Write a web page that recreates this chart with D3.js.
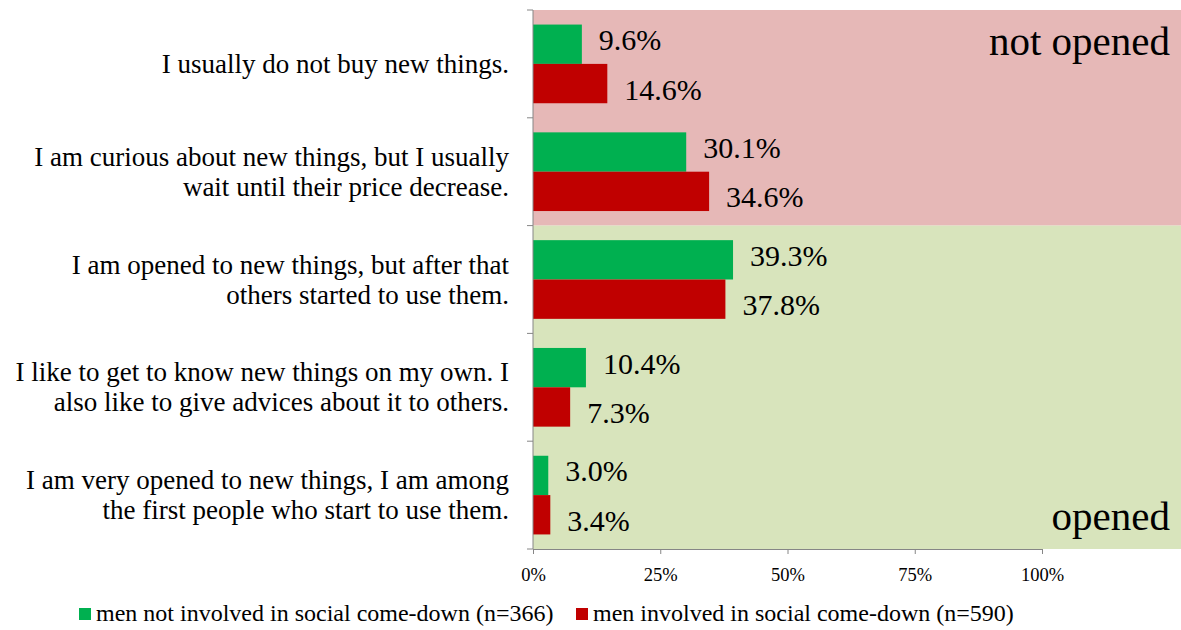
<!DOCTYPE html>
<html>
<head>
<meta charset="utf-8">
<script src="https://cdn.jsdelivr.net/npm/d3@7"></script>
<style>
  html, body { margin: 0; padding: 0; background: #ffffff; }
  svg { display: block; font-family: "Liberation Serif", "Times New Roman", serif; }
</style>
</head>
<body>
<svg id="chart" width="1181" height="630"></svg>
<script>
// Answer options, top to bottom (each entry is a list of wrapped lines)
const categories = [
  ["I usually do not buy new things."],
  ["I am curious about new things, but I usually", "wait until their price decrease."],
  ["I am opened to new things, but after that", "others started to use them."],
  ["I like to get to know new things on my own. I", "also like to give advices about it to others."],
  ["I am very opened to new things, I am among", "the first people who start to use them."]
];
const seriesNames = [
  "men not involved in social come-down (n=366)",
  "men involved in social come-down (n=590)"
];
const notInvolved = [9.6, 30.1, 39.3, 10.4, 3.0];
const involved    = [14.6, 34.6, 37.8, 7.3, 3.4];
const xTicks = [0, 25, 50, 75, 100];
const tickLabels = ["0%", "25%", "50%", "75%", "100%"];
// Shaded attitude zones: first and last category index covered
const zoneNames = ["not opened", "opened"];
const zoneFirst = [0, 2];
const zoneLast  = [1, 4];

const colors = ["#00B050", "#C00000"];
const zoneColors = ["#E6B8B7", "#D8E4BC"];

const svg = d3.select("#chart");
const margin = { left: 533, top: 10, right: 139, bottom: 81 };
const W = 1181, H = 630;
const plotRight = W - margin.right;
const plotBottom = H - margin.bottom;

const catIdx = categories.map((d, i) => i);
const y = d3.scaleBand().domain(catIdx).range([margin.top, plotBottom]).padding(0);
const ySub = d3.scaleBand().domain([0, 1]).range([0, y.bandwidth()])
  .paddingInner(0).paddingOuter(0.37);
const x = d3.scaleLinear().domain([0, 100]).range([margin.left, plotRight]);

// Zone backgrounds extend to the right edge of the page
const zones = zoneNames.map((name, i) => ({ name, first: zoneFirst[i], last: zoneLast[i], color: zoneColors[i] }));
svg.append("g").selectAll("rect").data(zones).join("rect")
  .attr("x", margin.left)
  .attr("y", d => y(d.first))
  .attr("width", W - margin.left)
  .attr("height", d => y(d.last) + y.bandwidth() - y(d.first))
  .attr("fill", d => d.color);

// Zone captions
svg.append("text")
  .attr("x", 1170).attr("y", 55)
  .attr("text-anchor", "end")
  .attr("font-size", 41)
  .attr("fill", "#000")
  .text(zones[0].name);
svg.append("text")
  .attr("x", 1170).attr("y", 530)
  .attr("text-anchor", "end")
  .attr("font-size", 41)
  .attr("fill", "#000")
  .text(zones[1].name);

// Bars
const rows = catIdx.map(i => [notInvolved[i], involved[i]]);
const groups = svg.append("g").selectAll("g").data(rows).join("g")
  .attr("transform", (d, i) => `translate(0,${y(i)})`);

groups.selectAll("rect").data(d => d.map((v, s) => ({ v, s }))).join("rect")
  .attr("x", x(0))
  .attr("y", d => ySub(d.s))
  .attr("width", d => x(d.v) - x(0))
  .attr("height", ySub.bandwidth())
  .attr("fill", d => colors[d.s]);

// Value labels
const labelDy = [6, 16];
groups.selectAll("text").data(d => d.map((v, s) => ({ v, s }))).join("text")
  .attr("x", d => x(d.v) + 17)
  .attr("y", d => ySub(d.s) + ySub.bandwidth() / 2 + labelDy[d.s])
  .attr("font-size", 30)
  .attr("fill", "#000")
  .text(d => d.v.toFixed(1) + "%");

// Category axis
const axisColor = "#868686";
const yAxisG = svg.append("g");
yAxisG.append("line")
  .attr("x1", margin.left).attr("x2", margin.left)
  .attr("y1", margin.top).attr("y2", plotBottom)
  .attr("stroke", axisColor);
const boundaries = catIdx.map(i => y(i)).concat([plotBottom]);
yAxisG.selectAll("line.tick").data(boundaries).join("line")
  .attr("class", "tick")
  .attr("x1", margin.left - 6).attr("x2", margin.left)
  .attr("y1", d => d).attr("y2", d => d)
  .attr("stroke", axisColor);

const catLabels = svg.append("g").selectAll("text").data(categories).join("text")
  .attr("text-anchor", "end")
  .attr("font-size", 27)
  .attr("fill", "#000");
const lineH = 30;
catLabels.each(function(lines, i) {
  const cy = y(i) + y.bandwidth() / 2;
  const startY = cy - (lines.length - 1) * lineH / 2 + 9;
  d3.select(this).selectAll("tspan").data(lines).join("tspan")
    .attr("x", 509)
    .attr("y", (l, j) => startY + j * lineH)
    .text(l => l);
});

// Value axis
const xAxis = d3.axisBottom(x).tickValues(xTicks)
  .tickFormat((d, i) => tickLabels[i]).tickSize(5).tickSizeOuter(0);
const xAxisG = svg.append("g").attr("transform", `translate(0,${plotBottom})`).call(xAxis);
xAxisG.select(".domain").attr("stroke", axisColor);
xAxisG.selectAll(".tick line").attr("stroke", axisColor);
xAxisG.selectAll(".tick text")
  .attr("font-family", "Liberation Serif, Times New Roman, serif")
  .attr("font-size", 18.5)
  .attr("fill", "#000")
  .attr("dy", null)
  .attr("y", 32);

// Legend
const legend = svg.append("g");
const legendX = [79, 576];
seriesNames.forEach((name, i) => {
  legend.append("rect")
    .attr("x", legendX[i]).attr("y", 608)
    .attr("width", 12).attr("height", 12)
    .attr("fill", colors[i]);
  legend.append("text")
    .attr("x", legendX[i] + 17).attr("y", 621)
    .attr("font-size", 24)
    .attr("fill", "#000")
    .text(name);
});
</script>
</body>
</html>
